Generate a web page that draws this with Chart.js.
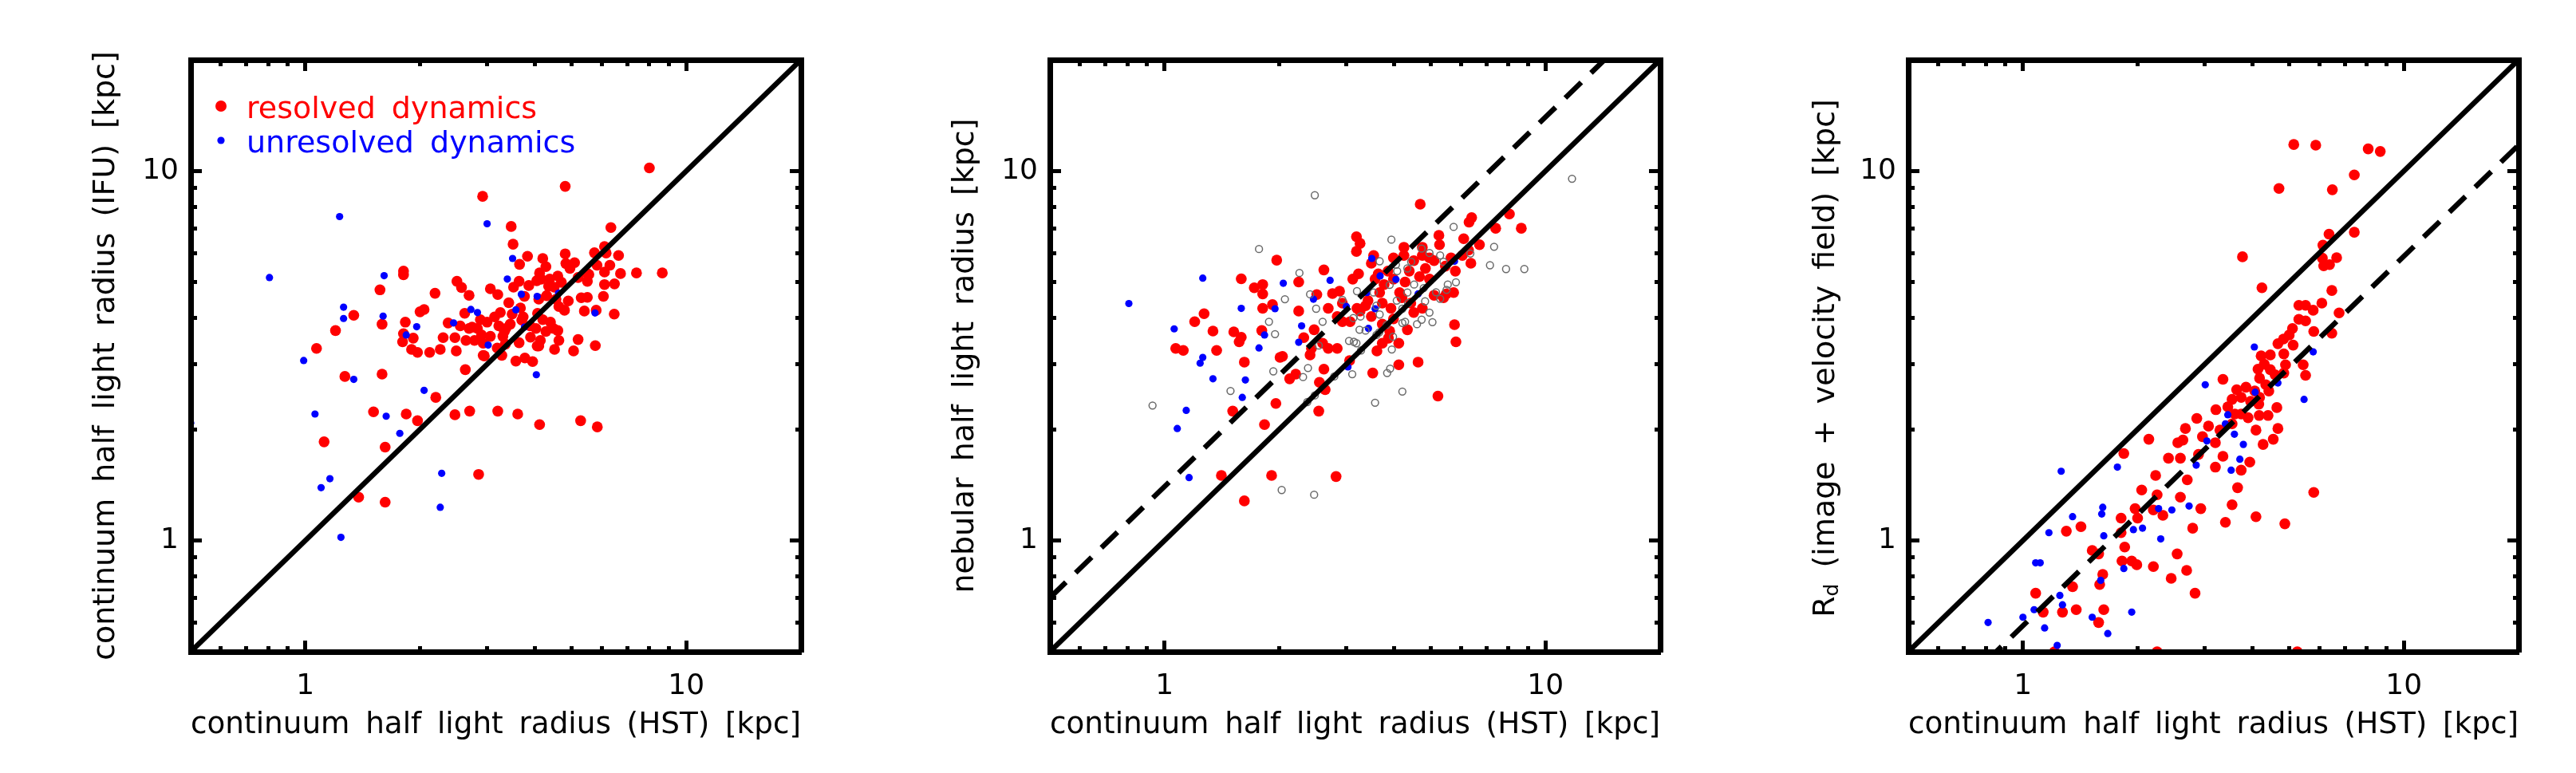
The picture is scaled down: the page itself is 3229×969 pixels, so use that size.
<!DOCTYPE html>
<html>
<head>
<meta charset="utf-8">
<script src="https://cdn.jsdelivr.net/npm/chart.js@4.4.0/dist/chart.umd.min.js"></script>
<style>
  html, body { margin: 0; padding: 0; background: #fff; }
  #wrap { position: relative; width: 3229px; height: 969px; }
  .panel { position: absolute; top: 0; width: 1076px; height: 969px; }
</style>
</head>
<body>
<div id="wrap">
  <div class="panel" style="left:0"><canvas id="panel1" width="1076" height="969"></canvas></div>
  <div class="panel" style="left:1077px"><canvas id="panel2" width="1076" height="969"></canvas></div>
  <div class="panel" style="left:2153px"><canvas id="panel3" width="1076" height="969"></canvas></div>
</div>
<script>
// axes (log, same range on both axes of every panel)
const axisMin = 0.5, axisMax = 20;
const tickValues = [0.6, 0.7, 0.8, 0.9, 1, 2, 3, 4, 5, 6, 7, 8, 9, 10];
const tickLabels = { 1: '1', 10: '10' };

const xTitle = 'continuum half light radius (HST) [kpc]';
const p1YTitle = 'continuum half light radius (IFU) [kpc]';
const p2YTitle = 'nebular half light radius [kpc]';
const p3YTitle = ['R', 'd', ' (image + velocity field) [kpc]'];
const legendLabels = ['resolved dynamics', 'unresolved dynamics'];

// reference lines
const lineX = [0.5, 20];
const oneToOne = 1;
const nebularOffset = 1.4;
const diskOffset = 0.588;

// panel 1: IFU vs HST continuum size  [x, y]
const p1Resolved = [[8.0,10.2],[4.81,9.09],[2.92,8.54],[3.47,7.08],[3.51,6.34],[6.34,7.03],[3.83,5.88],[3.65,5.59],[4.2,5.8],[4.81,5.97],
  [4.28,5.51],[4.83,5.62],[5.09,5.65],[5.74,6.01],[6.1,6.25],[6.64,5.91],[6.16,6.0],[5.83,5.56],[6.3,5.56],[6.1,5.33],
  [6.72,5.28],[7.4,5.3],[8.65,5.3],[5.5,5.03],[4.95,5.45],[4.6,5.2],[4.38,5.1],[4.16,5.1],[4.05,5.05],[4.5,4.85],
  [4.35,4.88],[4.7,5.0],[6.1,4.93],[6.48,4.95],[6.06,4.58],[5.3,4.54],[5.5,4.55],[5.4,4.18],[5.8,4.2],[6.47,4.1],
  [4.63,4.3],[4.79,4.2],[5.2,3.5],[5.77,3.37],[5.06,3.26],[4.51,3.29],[4.63,3.48],[4.48,3.75],[4.4,3.9],[4.1,3.36],
  [4.14,3.48],[4.28,3.68],[4.1,4.5],[3.76,4.58],[3.86,4.9],[3.64,5.03],[3.52,4.85],[3.42,4.4],[3.67,4.26],[3.49,4.1],
  [3.73,4.03],[4.07,4.12],[4.2,3.96],[3.89,3.81],[4.03,3.75],[3.64,3.43],[3.57,3.06],[3.77,3.12],[4.06,3.36],[3.25,4.14],
  [3.22,3.81],[3.33,3.68],[3.3,3.57],[3.36,3.75],[3.14,4.03],[3.06,4.8],[3.2,4.63],[3.19,3.32],[3.28,3.17],[3.06,3.57],
  [2.93,3.17],[2.63,2.9],[2.83,3.75],[2.88,3.96],[2.74,3.78],[2.62,4.12],[2.5,5.03],[2.57,4.84],[2.69,4.61],[2.19,4.67],
  [2.37,3.88],[2.55,3.81],[2.69,3.75],[2.47,3.54],[2.3,3.54],[2.64,3.48],[2.78,3.48],[2.93,3.42],[2.49,3.26],[2.26,3.29],
  [2.12,3.23],[1.97,3.23],[1.9,3.29],[1.8,3.45],[1.92,3.53],[1.83,3.9],[2.0,4.16],[2.05,4.22],[1.81,3.63],[1.81,5.36],
  [1.81,5.24],[1.57,4.77],[1.59,3.85],[1.34,4.07],[1.2,3.7],[1.07,3.31],[1.27,2.78],[1.59,2.82],[2.2,2.44],[1.51,2.23],
  [1.84,2.2],[1.97,2.11],[2.47,2.19],[2.7,2.24],[3.2,2.24],[3.61,2.2],[4.12,2.06],[5.28,2.11],[5.84,2.03],[1.12,1.85],
  [1.62,1.79],[2.85,1.51],[1.38,1.31],[1.62,1.27],[2.95,3.16],[4.12,5.3],[5.47,5.3],[3.9,3.55],[3.7,3.95],[3.45,3.85],
  [2.9,3.6],[3.0,3.9],[4.3,4.6],[4.55,4.5],[4.9,4.45],[5.55,5.25],[5.2,5.15],[3.95,3.05],[3.35,3.4],[4.6,3.7]];
const p1Unresolved = [[0.805,5.15],[1.23,7.53],[3.0,7.2],[1.61,5.21],[1.26,4.28],[1.26,3.99],[1.6,4.05],[1.96,3.79],[1.84,3.6],[3.5,5.8],
  [3.39,5.1],[3.69,4.64],[4.06,4.58],[4.62,4.67],[3.57,4.21],[2.72,4.22],[2.83,4.14],[2.45,3.88],[3.02,3.38],[3.76,3.78],
  [5.76,4.13],[0.99,3.07],[1.34,2.73],[2.05,2.55],[4.04,2.81],[1.06,2.2],[1.63,2.17],[1.77,1.95],[1.16,1.47],[1.1,1.39],
  [2.28,1.52],[2.26,1.23],[1.24,1.02],[0.5,2.08]];

// panel 2: nebular vs HST continuum size
const p2Resolved = [[4.69,8.13],[6.4,7.48],[6.3,7.27],[8.04,7.65],[8.64,7.0],[7.4,7.0],[3.19,6.64],[3.26,6.37],[3.19,6.06],[3.54,5.91],
  [4.25,6.22],[5.25,6.7],[5.27,6.32],[6.1,6.56],[6.71,6.32],[6.37,5.63],[6.05,5.91],[1.97,5.74],[2.62,5.4],[1.59,5.11],
  [1.81,4.93],[1.72,4.83],[1.81,4.65],[2.25,5.01],[3.23,5.27],[3.12,5.1],[2.51,4.63],[2.76,4.66],[2.88,4.73],[2.69,4.25],
  [2.84,4.04],[2.93,3.91],[3.07,3.91],[1.92,4.35],[1.81,4.25],[2.25,4.18],[1.27,4.11],[1.2,3.91],[1.34,3.69],[1.52,3.67],
  [1.59,3.55],[1.57,3.45],[1.8,3.7],[1.07,3.31],[1.12,3.27],[1.37,3.27],[1.62,3.04],[2.32,3.54],[2.47,3.72],[2.43,3.31],
  [2.41,3.18],[2.6,3.42],[2.69,3.31],[2.84,3.31],[2.01,3.13],[2.04,3.15],[2.21,2.82],[2.13,2.74],[2.62,2.91],[2.55,2.68],
  [2.64,2.56],[1.96,2.35],[1.51,2.24],[2.54,2.24],[1.83,2.06],[3.06,3.07],[3.52,2.84],[3.61,3.26],[3.73,3.42],[4.12,2.99],
  [4.63,3.04],[4.12,3.42],[3.87,3.53],[4.34,3.72],[5.77,3.84],[5.82,3.45],[5.22,2.46],[1.41,1.5],[1.91,1.5],[2.82,1.49],
  [1.62,1.28],[3.37,4.32],[3.26,4.18],[3.49,4.04],[3.42,4.46],[3.67,4.69],[3.77,4.93],[3.64,5.27],[3.86,5.36],[3.99,5.1],
  [4.14,4.69],[4.28,5.01],[4.39,5.36],[4.51,5.72],[4.25,5.91],[4.75,5.91],[4.84,5.45],[4.67,5.18],[4.96,5.1],[5.1,5.72],
  [5.46,5.53],[5.65,5.82],[5.8,5.36],[4.2,4.54],[4.43,4.39],[4.51,4.14],[4.75,4.25],[5.1,4.61],[5.4,4.54],[5.49,4.65],
  [5.74,4.69],[3.73,4.39],[3.93,4.25],[3.73,3.85],[3.99,3.98],[3.9,3.69],[3.2,4.25],[2.93,4.39],[3.57,5.1],[3.49,5.63],
  [3.99,5.82],[4.75,6.22],[4.96,5.82],[6.28,6.11]];
const p2Unresolved = [[0.806,4.38],[1.26,5.13],[1.06,3.74],[1.59,4.25],[2.05,4.97],[1.95,4.24],[2.72,5.06],[1.26,3.13],[1.24,3.02],[1.83,3.6],
  [1.77,3.32],[2.29,3.81],[2.25,3.44],[1.34,2.74],[1.63,2.72],[1.6,2.44],[1.14,2.25],[1.08,2.01],[1.16,1.48],[3.5,5.8],
  [3.68,5.2],[3.4,4.69],[3.57,4.24],[4.05,5.09],[5.77,5.7],[3.0,4.3],[3.43,3.75],[3.03,2.95],[2.46,4.5],[4.63,4.65]];
const p2Open = [[2.48,8.6],[1.77,6.15],[2.26,5.3],[2.07,4.5],[1.88,3.91],[1.95,3.62],[2.5,4.24],[2.41,4.64],[2.6,3.91],[2.54,3.37],
  [1.93,2.87],[2.38,2.93],[2.31,2.77],[1.49,2.54],[0.93,2.32],[2.48,2.47],[2.37,2.37],[2.79,2.78],[3.11,2.82],[2.03,1.37],
  [2.47,1.33],[3.57,2.36],[4.21,2.53],[3.84,2.84],[3.91,2.92],[3.95,3.29],[3.28,3.27],[3.05,3.47],[3.14,3.45],[3.19,3.42],
  [3.6,3.6],[3.66,3.66],[3.83,3.83],[3.98,3.56],[3.25,3.72],[3.37,3.7],[3.27,4.04],[3.13,4.0],[3.67,4.09],[4.21,3.88],
  [4.28,3.91],[4.6,3.85],[4.73,3.96],[5.05,3.9],[4.96,4.14],[4.83,4.44],[5.29,4.51],[5.16,4.7],[5.5,4.77],[5.54,4.93],
  [5.82,5.0],[4.79,4.82],[4.52,4.93],[4.36,4.39],[4.21,4.24],[4.07,4.46],[4.34,4.69],[3.6,4.32],[3.54,4.69],[3.2,4.73],
  [2.93,4.48],[3.9,4.92],[4.08,5.36],[4.34,5.45],[4.44,5.68],[4.73,6.17],[4.96,6.0],[5.29,5.91],[5.4,5.68],[3.67,5.7],
  [4.05,5.58],[3.94,6.52],[5.74,7.06],[6.35,5.98],[7.33,6.24],[7.15,5.56],[7.88,5.43],[8.8,5.43],[11.74,9.53]];

// panel 3: disk scale length vs HST continuum size
const p3Resolved = [[5.14,11.8],[5.87,11.75],[8.06,11.48],[8.67,11.3],[7.41,9.76],[4.7,8.97],[6.49,8.9],[7.41,6.83],[6.36,6.75],[6.13,6.3],
  [6.66,5.83],[6.11,5.81],[6.16,5.54],[6.38,5.58],[3.77,5.86],[4.24,4.83],[6.47,4.75],[6.09,4.39],[5.3,4.33],[5.52,4.33],
  [5.78,4.2],[6.76,4.13],[5.3,3.97],[5.52,3.93],[5.1,3.75],[5.8,3.68],[6.47,3.64],[4.67,3.41],[5.12,3.38],[4.22,3.16],
  [4.46,3.18],[4.84,3.2],[4.89,2.99],[5.44,2.99],[5.52,2.8],[4.14,2.91],[4.46,2.9],[4.59,2.81],[4.84,2.84],[4.18,2.75],
  [3.35,2.73],[3.64,2.56],[3.85,2.6],[4.06,2.54],[4.34,2.64],[3.54,2.41],[3.74,2.44],[3.96,2.38],[4.16,2.34],[4.64,2.29],
  [3.21,2.26],[3.74,2.2],[4.17,2.18],[4.4,2.18],[2.86,2.14],[3.07,2.04],[3.29,1.99],[3.54,2.07],[4.67,2.01],[4.09,1.99],
  [2.67,2.01],[2.63,1.87],[2.55,1.84],[2.96,1.91],[3.2,1.84],[4.54,1.88],[4.27,1.82],[2.14,1.88],[1.84,1.72],[2.41,1.67],
  [2.59,1.67],[2.89,1.71],[3.2,1.58],[3.35,1.69],[3.94,1.63],[3.74,1.55],[3.66,1.39],[3.54,1.25],[3.4,1.12],[4.09,1.16],
  [4.87,1.11],[5.8,1.35],[2.93,1.22],[2.79,1.08],[2.7,1.46],[2.59,1.31],[2.23,1.5],[2.25,1.33],[2.33,1.17],[2.2,1.21],
  [2.05,1.37],[1.97,1.22],[2.0,1.15],[1.81,1.15],[1.81,1.05],[1.85,0.96],[1.82,0.88],[1.93,0.88],[1.99,0.86],[2.2,0.85],
  [2.54,0.92],[2.69,0.83],[2.45,0.79],[2.83,0.72],[1.42,1.09],[1.3,1.06],[1.52,0.94],[1.58,0.92],[1.62,0.81],[1.59,0.76],
  [1.35,0.75],[1.08,0.72],[1.13,0.64],[1.27,0.64],[1.38,0.65],[1.63,0.65],[1.58,0.6],[4.83,3.51],[4.18,2.44],[4.42,2.54],
  [3.45,2.3],[3.9,2.15],[4.3,3.0],[5.0,3.6],[3.6,2.2],[1.21,0.5],[2.25,0.5],[5.25,0.5]];
const p3Unresolved = [[4.05,3.34],[5.78,3.24],[3.01,2.64],[4.67,2.67],[4.07,2.52],[5.47,2.41],[3.45,2.19],[3.4,2.07],[3.59,1.94],[3.04,1.86],
  [3.79,1.82],[3.71,1.66],[3.52,1.55],[2.85,1.6],[1.77,1.58],[1.26,1.54],[2.73,1.24],[2.46,1.21],[2.27,1.22],[1.62,1.23],
  [1.61,1.18],[1.35,1.16],[1.17,1.05],[1.95,1.07],[2.06,1.08],[2.3,1.01],[1.63,1.03],[1.08,0.87],[1.11,0.87],[1.84,0.84],
  [1.6,0.78],[1.25,0.71],[1.27,0.67],[1.07,0.65],[1.0,0.62],[0.81,0.6],[1.14,0.58],[1.52,0.62],[1.93,0.64],[1.67,0.56],
  [1.23,0.52]];

const FONT = 'DejaVu Sans';
Chart.defaults.font.family = FONT;
Chart.defaults.color = '#000';

function toPoints(pairs) {
  return pairs.map(p => ({ x: p[0], y: p[1] }));
}

// minor ticks are drawn shorter by dashing the tick line
function tickDash(side) {
  return ctx => {
    if (ctx.tick && tickLabels[ctx.tick.value]) return [];
    return (side === 'bottom' || side === 'right') ? [11, 100] : [0, 6, 12, 100];
  };
}

function logScale(position, size, showLabels, titleText) {
  const horizontal = position === 'top' || position === 'bottom';
  return {
    type: 'logarithmic',
    position: position,
    min: axisMin,
    max: axisMax,
    afterBuildTicks: s => { s.ticks = tickValues.map(v => ({ value: v })); },
    afterFit: s => { if (horizontal) s.height = size; else s.width = size; },
    border: { display: true, color: '#000', width: 7, z: 1 },
    grid: {
      display: true,
      drawOnChartArea: false,
      drawTicks: true,
      tickLength: -14,
      tickWidth: 5,
      tickColor: '#000',
      tickBorderDash: tickDash(position),
      z: 1
    },
    ticks: {
      display: showLabels,
      autoSkip: false,
      maxRotation: 0,
      padding: horizontal ? 36 : 29,
      color: '#000',
      font: { size: 36 },
      callback: v => tickLabels[v] || ''
    },
    title: {
      display: !!titleText,
      text: titleText || '',
      color: '#000',
      font: { size: 38 },
      padding: horizontal ? { top: 0, bottom: 37 } : { top: 110, bottom: 0 }
    }
  };
}

function lineSet(factor, dashed) {
  return {
    type: 'line',
    data: lineX.map(x => ({ x: x, y: x * factor })),
    borderColor: '#000',
    borderWidth: 6.5,
    borderDash: dashed ? [28, 17] : [],
    pointRadius: 0,
    fill: false,
    tension: 0,
    clip: 0,
    xAxisID: 'x',
    yAxisID: 'y'
  };
}

function dotSet(pairs, color, radius) {
  return {
    type: 'scatter',
    data: toPoints(pairs),
    pointRadius: radius,
    pointHoverRadius: radius,
    pointBackgroundColor: color,
    pointBorderColor: color,
    pointBorderWidth: 0,
    clip: 0,
    xAxisID: 'x',
    yAxisID: 'y'
  };
}

function ringSet(pairs) {
  return {
    type: 'scatter',
    data: toPoints(pairs),
    pointRadius: 4.4,
    pointHoverRadius: 4.4,
    pointBackgroundColor: 'rgba(0,0,0,0)',
    pointBorderColor: '#6a6a6a',
    pointBorderWidth: 1.5,
    clip: 0,
    xAxisID: 'x',
    yAxisID: 'y'
  };
}

const spacingPlugin = {
  id: 'wordSpacing',
  beforeDraw(chart) { chart.ctx.wordSpacing = '8px'; }
};

const legendPlugin = {
  id: 'insetLegend',
  afterDraw(chart) {
    const ctx = chart.ctx;
    const area = chart.chartArea;
    const colors = ['#ff0000', '#0000ff'];
    const radii = [7, 4.6];
    ctx.save();
    ctx.font = '38px "' + FONT + '"';
    ctx.textBaseline = 'alphabetic';
    ctx.textAlign = 'left';
    legendLabels.forEach((label, i) => {
      const base = area.top + 73 + i * 43;
      ctx.fillStyle = colors[i];
      ctx.beginPath();
      ctx.arc(area.left + 38, base - 15, radii[i], 0, Math.PI * 2);
      ctx.fill();
      ctx.fillText(label, area.left + 70, base);
    });
    ctx.restore();
  }
};

// y title with a subscript, drawn rotated like the axis titles
const subTitlePlugin = {
  id: 'subTitle',
  afterDraw(chart) {
    const ctx = chart.ctx;
    const parts = [
      { text: p3YTitle[0], font: '38px "' + FONT + '"', shift: 0 },
      { text: p3YTitle[1], font: '25px "' + FONT + '"', shift: 5 },
      { text: p3YTitle[2], font: '38px "' + FONT + '"', shift: 0 }
    ];
    ctx.save();
    ctx.fillStyle = '#000';
    ctx.textBaseline = 'alphabetic';
    ctx.textAlign = 'left';
    let total = 0;
    parts.forEach(p => { ctx.font = p.font; total += ctx.measureText(p.text).width; });
    const cy = (chart.chartArea.top + chart.chartArea.bottom) / 2 + 3;
    ctx.translate(146, cy + total / 2);
    ctx.rotate(-Math.PI / 2);
    let pos = 0;
    parts.forEach(p => {
      ctx.font = p.font;
      ctx.fillText(p.text, pos, p.shift);
      pos += ctx.measureText(p.text).width;
    });
    ctx.restore();
  }
};

function makePanel(canvasId, datasets, yTitle, extraPlugins) {
  const ctx = document.getElementById(canvasId).getContext('2d');
  return new Chart(ctx, {
    type: 'scatter',
    data: { datasets: datasets },
    options: {
      responsive: false,
      animation: false,
      devicePixelRatio: 1,
      events: [],
      layout: { padding: 0 },
      scales: {
        x: logScale('bottom', 152, true, xTitle),
        y: logScale('left', 239, true, yTitle),
        xTop: logScale('top', 75, false, null),
        yRight: logScale('right', 72, false, null)
      },
      plugins: {
        legend: { display: false },
        tooltip: { enabled: false }
      }
    },
    plugins: [spacingPlugin].concat(extraPlugins)
  });
}

makePanel('panel1', [
  lineSet(oneToOne, false),
  dotSet(p1Unresolved, '#0000ff', 4.6),
  dotSet(p1Resolved, '#ff0000', 6.8)
], p1YTitle, [legendPlugin]);

makePanel('panel2', [
  lineSet(nebularOffset, true),
  lineSet(oneToOne, false),
  ringSet(p2Open),
  dotSet(p2Unresolved, '#0000ff', 4.6),
  dotSet(p2Resolved, '#ff0000', 6.8)
], p2YTitle, []);

makePanel('panel3', [
  lineSet(diskOffset, true),
  lineSet(oneToOne, false),
  dotSet(p3Unresolved, '#0000ff', 4.6),
  dotSet(p3Resolved, '#ff0000', 6.8)
], null, [subTitlePlugin]);
</script>
</body>
</html>
